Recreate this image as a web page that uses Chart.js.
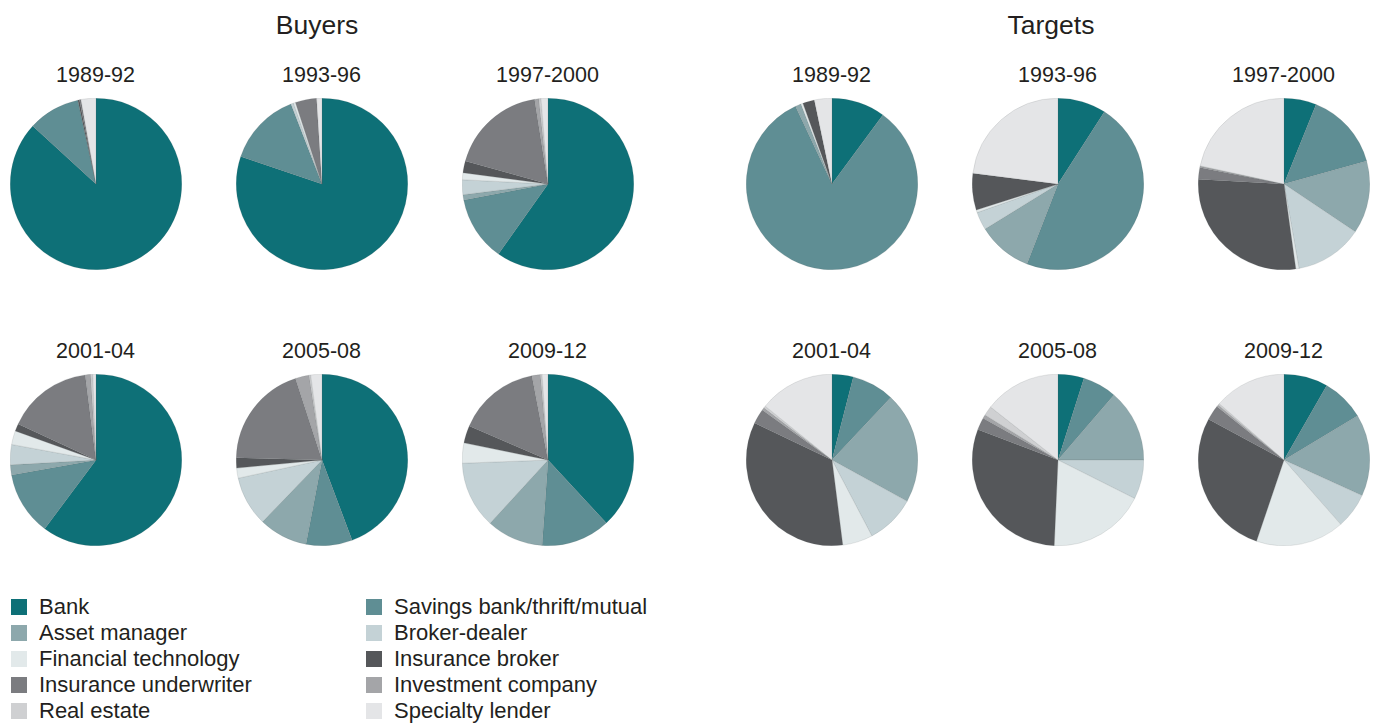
<!DOCTYPE html>
<html>
<head>
<meta charset="utf-8">
<script src="https://cdn.jsdelivr.net/npm/chart.js@4"></script>
<style>
  html, body { margin: 0; padding: 0; background: #ffffff; }
  body { width: 1377px; height: 726px; position: relative; overflow: hidden;
         font-family: "Liberation Sans", Arial, Helvetica, sans-serif; color: #231f20; }
  .group { position: absolute; font-size: 26.5px; transform: translate(-50%, -50%); white-space: nowrap; }
  .sub { position: absolute; font-size: 21.5px; transform: translate(-50%, -50%); white-space: nowrap; }
  .pie { position: absolute; }
  .leg { position: absolute; font-size: 22px; white-space: nowrap; line-height: 26px; }
  .leg span.sw { position: absolute; width: 16px; height: 16px; left: 0; top: 5px; }
  .leg span.tx { position: absolute; left: 28px; top: 0; }
</style>
</head>
<body>
<script>
// Firm categories, in slice order (clockwise from 12 o'clock)
const categories = [
  "Bank", "Savings bank/thrift/mutual", "Asset manager", "Broker-dealer",
  "Financial technology", "Insurance broker", "Insurance underwriter",
  "Investment company", "Real estate", "Specialty lender"
];
const categoryColors = [
  "#0e7077", "#5f8e94", "#8da8ac", "#c4d2d6", "#e2e9ea",
  "#55575a", "#7b7c80", "#a4a5a8", "#cfd0d2", "#e4e5e7"
];

const periods = ["1989-92", "1993-96", "1997-2000", "2001-04", "2005-08", "2009-12"];

// Buyers: share of deals (%) by buyer type
const buyers1989 = [86.8, 9.8, 0, 0, 0, 0.3, 0.3, 0, 0, 2.8];
const buyers1993 = [80.2, 13.9, 0, 0.5, 0.4, 0, 4.0, 0, 0, 1.0];
const buyers1997 = [59.8, 12.2, 1.0, 2.8, 1.3, 2.2, 18.2, 0.8, 0.4, 1.3];
const buyers2001 = [60.2, 12.0, 1.9, 3.8, 2.6, 1.4, 16.1, 1.0, 0.4, 0.6];
const buyers2005 = [44.3, 8.7, 9.2, 9.4, 1.9, 1.9, 19.6, 2.6, 0.3, 2.1];
const buyers2009 = [38.1, 13.0, 10.7, 12.6, 3.8, 3.3, 15.5, 1.6, 0.3, 1.1];

// Targets: share of deals (%) by target type
const targets1989 = [10.1, 82.9, 1.1, 0, 0.4, 2.2, 0, 0, 0, 3.3];
const targets1993 = [9.1, 46.8, 10.3, 3.4, 0.5, 6.9, 0, 0, 0, 23.0];
const targets1997 = [6.1, 14.6, 13.7, 12.8, 0.6, 28.1, 2.2, 0.2, 0.1, 21.6];
const targets2001 = [4.0, 8.0, 21.0, 9.3, 5.7, 34.1, 2.8, 0.5, 0.4, 14.2];
const targets2005 = [4.9, 6.4, 13.7, 7.4, 18.3, 30.1, 2.3, 0.7, 1.8, 14.4];
const targets2009 = [8.3, 8.1, 15.4, 6.7, 16.7, 27.7, 2.8, 0.4, 0.3, 13.6];

const groupTitles = ["Buyers", "Targets"];
const buyerSeries = [buyers1989, buyers1993, buyers1997, buyers2001, buyers2005, buyers2009];
const targetSeries = [targets1989, targets1993, targets1997, targets2001, targets2005, targets2009];

// Layout
const PIE = 172;
const colX = [[95.5, 321.5, 547.5], [831.5, 1057.5, 1283.5]];
const rowY = [183.5, 459.5];
const subY = [75, 351];
const groupX = [317, 1051];

function addText(cls, text, x, y) {
  const d = document.createElement("div");
  d.className = cls;
  d.textContent = text;
  d.style.left = x + "px";
  d.style.top = y + "px";
  document.body.appendChild(d);
}

function addPie(values, cx, cy) {
  const c = document.createElement("canvas");
  c.className = "pie";
  c.width = PIE; c.height = PIE;
  c.style.width = PIE + "px"; c.style.height = PIE + "px";
  c.style.left = (cx - PIE / 2) + "px";
  c.style.top = (cy - PIE / 2) + "px";
  document.body.appendChild(c);
  new Chart(c, {
    type: "pie",
    data: {
      labels: categories,
      datasets: [{
        data: values,
        backgroundColor: categoryColors,
        borderColor: "rgba(90,92,95,0.35)",
        borderWidth: 0.4
      }]
    },
    options: {
      responsive: false,
      animation: false,
      layout: { padding: 0 },
      plugins: { legend: { display: false }, tooltip: { enabled: false } }
    }
  });
}

[buyerSeries, targetSeries].forEach((series, g) => {
  addText("group", groupTitles[g], groupX[g], 25);
  series.forEach((vals, i) => {
    const r = Math.floor(i / 3), col = i % 3;
    addText("sub", periods[i], colX[g][col], subY[r]);
    addPie(vals, colX[g][col], rowY[r]);
  });
});

// Legend: two columns, five rows
const legendX = [11, 366];
const legendY0 = 594;
const legendStep = 26;
categories.forEach((name, i) => {
  const col = i % 2, row = Math.floor(i / 2);
  const d = document.createElement("div");
  d.className = "leg";
  d.style.left = legendX[col] + "px";
  d.style.top = (legendY0 + row * legendStep) + "px";
  const sw = document.createElement("span");
  sw.className = "sw";
  sw.style.background = categoryColors[i];
  const tx = document.createElement("span");
  tx.className = "tx";
  tx.textContent = name;
  d.appendChild(sw); d.appendChild(tx);
  document.body.appendChild(d);
});
</script>
</body>
</html>
